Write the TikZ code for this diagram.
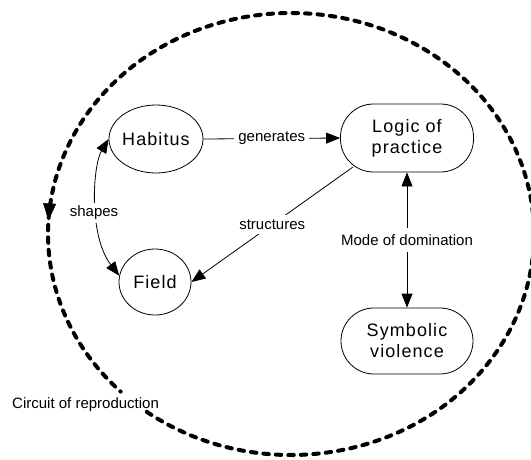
\documentclass[tikz,border=0pt]{standalone}
\usepackage{fontspec}
\setmainfont{Liberation Sans}
\newfontfamily\bigfont[LetterSpace=6]{Liberation Sans}
\usetikzlibrary{arrows.meta,shapes.geometric,decorations.markings,calc}
\begin{document}
\begin{tikzpicture}[x=1pt,y=-1pt,
  thinline/.style={line width=0.8pt},
  tipend/.style={-{Triangle[length=14pt,width=11pt]}},
  tipboth/.style={{Triangle[length=14pt,width=11pt]}-{Triangle[length=14pt,width=11pt]}},
  ellnode/.style={draw, ellipse, line width=0.8pt, inner sep=0pt,
    font=\bigfont\fontsize{18}{21}\selectfont},
  rrnode/.style={draw, rectangle, rounded corners=33pt, line width=0.8pt,
    minimum width=133pt, minimum height=68pt, inner sep=0pt, align=center,
    font=\bigfont\fontsize{18}{21}\selectfont},
  lab/.style={font=\fontsize{15}{18}\selectfont, fill=white, inner xsep=4pt, inner ysep=5pt},
  circuit/.style={line width=4pt, dash pattern=on 5.5pt off 7pt, line cap=round}
]
\useasboundingbox (0,0) rectangle (531,459);

% nodes
\node[ellnode, minimum width=94pt, minimum height=68pt] (hab) at (156,139) {\makebox[0pt]{Habitus}};
\node[ellnode, minimum width=72pt, minimum height=66pt] (fld) at (155,282) {\makebox[0pt]{Field}};
\node[rrnode] (lop) at (407,138) {Logic of\\practice};
\node[rrnode, minimum width=132pt, minimum height=66pt] (sv) at (407,341) {Symbolic\\violence};
\node[font=\fontsize{15}{18}\selectfont, inner sep=0pt, anchor=west] (cr) at (12,405) {Circuit of reproduction};

% connectors
\draw[thinline, tipend] (hab.east) -- node[lab]{generates} (lop.west);
\coordinate (lopsw) at ($(lop.center)+(-54,29)$);
\draw[thinline, tipend] (lopsw) -- node[lab]{structures} (fld.east);
\draw[thinline, tipboth] (hab.west) .. controls (93,165) and (88,235) .. (fld.170)
  node[pos=0.57, lab, inner xsep=2pt, inner ysep=3pt, xshift=-3pt]{shapes};
\draw[thinline, tipboth] (lop.south) -- node[lab, inner ysep=6pt]{Mode of domination} (sv.north);

% circuit of reproduction
\draw[circuit, postaction={decorate},
  decoration={markings, mark=at position 0.865 with {\arrow{Triangle[length=17pt,width=13pt,line width=0.4pt]}}}]
  ($(291,234)+(126.4:243 and 221)$) arc[start angle=126.4, end angle=-225.5, x radius=243, y radius=221];
\end{tikzpicture}
\end{document}
